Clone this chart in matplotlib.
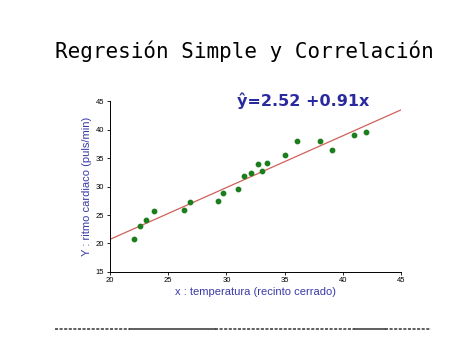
import matplotlib.pyplot as plt
from matplotlib.lines import Line2D

# datos
temperatura = [22.1, 22.6, 23.1, 23.8, 26.4, 26.9, 29.3, 29.7, 31.0, 31.5,
               32.1, 32.7, 33.1, 33.5, 35.0, 36.1, 38.0, 39.1, 41.0, 42.0]
ritmo = [20.8, 23.0, 24.2, 25.7, 25.8, 27.2, 27.4, 28.9, 29.5, 31.9,
         32.4, 33.9, 32.8, 34.2, 35.5, 38.0, 38.0, 36.5, 39.0, 39.5]
b0, b1 = 2.52, 0.91
x_ticks = [20, 25, 30, 35, 40, 45]
y_ticks = [15, 20, 25, 30, 35, 40, 45]

plt.rcParams['font.family'] = ['Liberation Sans', 'DejaVu Sans']

fig = plt.figure(figsize=(4.74, 3.55), dpi=100)
ax = fig.add_axes([0.232, 0.234, 0.614, 0.481])

ax.scatter(temperatura, ritmo, s=10, color='#1b7d1b', zorder=3)
xl = [20, 45]
ax.plot(xl, [b0 + b1 * v for v in xl], color='#d0605a', linewidth=0.9)

ax.set_xlim(20, 45)
ax.set_ylim(15, 45)
ax.set_xticks(x_ticks)
ax.set_yticks(y_ticks)
ax.tick_params(labelsize=5.5, length=2.5, width=0.6, pad=1.5)
for s in ['top', 'right']:
    ax.spines[s].set_visible(False)
for s in ['left', 'bottom']:
    ax.spines[s].set_linewidth(0.7)

ax.set_xlabel('x : temperatura (recinto cerrado)', fontsize=8, color='#3a3aa8', labelpad=2)
ax.set_ylabel('Y : ritmo cardiaco (puls/min)', fontsize=8, color='#3a3aa8', labelpad=3)

ax.text(0.438, 1.0, 'ŷ=2.52 +0.91x', transform=ax.transAxes, fontsize=11.5,
        fontweight='bold', color='#2a2aa0', va='center', ha='left',
        family=['DejaVu Sans'])

fig.text(0.515, 0.855, 'Regresión Simple y Correlación', fontsize=15,
         family='DejaVu Sans Mono', ha='center', va='center')

# linea inferior (mitad discontinua, mitad continua)
yl = 1 - 329 / 355
tramos = [(55, 130, '--'), (130, 215, '-'), (215, 355, '--'), (355, 385, '-'), (385, 431, '--')]
for a, b, st in tramos:
    fig.add_artist(Line2D([a / 474, b / 474], [yl, yl], color='#333333',
                          linewidth=1.1, linestyle=st, dashes=(2, 1) if st == '--' else (None, None)))

fig.savefig('out.png', dpi=100)
